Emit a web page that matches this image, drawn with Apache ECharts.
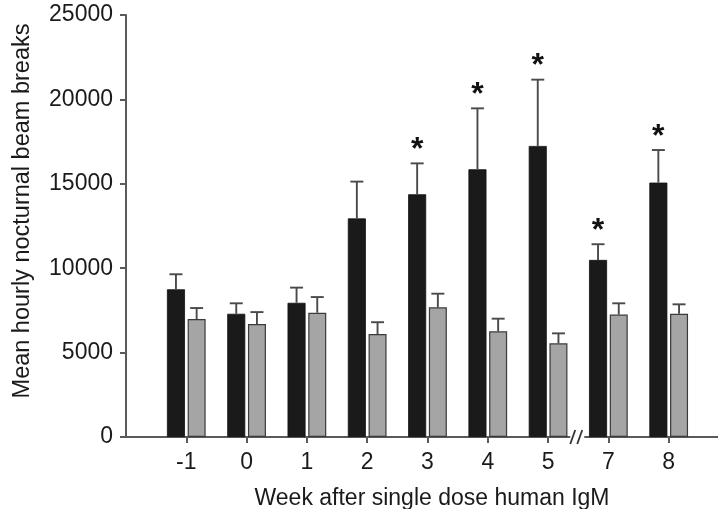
<!DOCTYPE html>
<html>
<head>
<meta charset="utf-8">
<script src="https://cdn.jsdelivr.net/npm/echarts@6/dist/echarts.min.js"></script>
<style>html,body{margin:0;padding:0;background:#fff;}#c{width:718px;height:509px;}</style>
</head>
<body>
<div id="c"></div>
<script>
// ---- data ----
var weeks = ["-1", "0", "1", "2", "3", "4", "5", "7", "8"];
var treatedMean = [8750, 7300, 7950, 12950, 14380, 15860, 17240, 10490, 15070];
var treatedErrTop = [9640, 7920, 8850, 15130, 16210, 19470, 21170, 11420, 17000];
var controlMean = [6990, 6690, 7360, 6100, 7680, 6260, 5550, 7250, 7300];
var controlErrTop = [7640, 7400, 8290, 6800, 8490, 7010, 6140, 7920, 7860];
var significant = [0, 0, 0, 0, 1, 1, 1, 1, 1];
var yTicks = [0, 5000, 10000, 15000, 20000, 25000];
var breakBetween = ["5", "7"];

// ---- build ----
var FONT = "Liberation Sans";
var BAR_W = 18, GAP = 0.15;
var cats = [""].concat(weeks).concat([""]);
function pad(arr) { return [null].concat(arr).concat([null]); }

function errData(means, tops, sig) {
  return weeks.map(function (w, i) { return [i + 1, means[i], tops[i], sig ? sig[i] : 0]; });
}
function errRender(side) {
  return function (params, api) {
    var off = side * (BAR_W + BAR_W * GAP) / 2;
    var idx = api.value(0);
    var p0 = api.coord([idx, api.value(1)]);
    var p1 = api.coord([idx, api.value(2)]);
    var x = p0[0] + off;
    var children = [
      { type: 'line', shape: { x1: x, y1: p0[1], x2: x, y2: p1[1] }, style: { stroke: '#4a4a4a', lineWidth: 1.9 } },
      { type: 'line', shape: { x1: x - 6.5, y1: p1[1], x2: x + 6.5, y2: p1[1] }, style: { stroke: '#4a4a4a', lineWidth: 1.9 } }
    ];
    if (api.value(3)) {
      children.push({ type: 'text', style: { text: '*', x: x, y: p1[1] - 13, align: 'center', verticalAlign: 'middle',
        font: 'bold 32px "' + FONT + '"', fill: '#111' } });
    }
    return { type: 'group', children: children };
  };
}

var chart = echarts.init(document.getElementById('c'), null, { renderer: 'canvas' });
chart.setOption({
  animation: false,
  backgroundColor: '#fff',
  grid: { left: 126, top: 15, bottom: 72, width: 603, containLabel: false, outerBoundsMode: 'none' },
  xAxis: {
    type: 'category', data: cats, boundaryGap: false,
    name: 'Week after single dose human IgM', nameLocation: 'middle', nameGap: 50,
    nameTextStyle: { fontFamily: FONT, fontSize: 23, color: '#1a1a1a', padding: [0, 0, 0, 9] },
    axisLine: { lineStyle: { color: '#5a5a5a', width: 2 } },
    axisTick: { length: 6, lineStyle: { color: '#5a5a5a', width: 2 },
      interval: function (i, v) { return v !== ''; } },
    axisLabel: { fontFamily: FONT, fontSize: 23, color: '#1a1a1a', margin: 14,
      interval: function (i, v) { return v !== ''; } },
    splitLine: { show: false }
  },
  yAxis: {
    type: 'value', min: yTicks[0], max: yTicks[yTicks.length - 1], interval: yTicks[1] - yTicks[0],
    name: 'Mean hourly nocturnal beam breaks', nameLocation: 'middle', nameGap: 91,
    nameTextStyle: { fontFamily: FONT, fontSize: 23.5, color: '#1a1a1a', padding: [0, 0, 0, 30] },
    axisLine: { show: true, lineStyle: { color: '#5a5a5a', width: 2 } },
    axisTick: { show: true, length: 6, lineStyle: { color: '#5a5a5a', width: 2 } },
    axisLabel: { fontFamily: FONT, fontSize: 23, color: '#1a1a1a', margin: 13,
      formatter: function (v) { return String(v); } },
    splitLine: { show: false }
  },
  series: [
    { type: 'bar', data: pad(treatedMean), barWidth: BAR_W, barGap: (GAP * 100) + '%',
      itemStyle: { color: '#1a1a1a', borderColor: '#111', borderWidth: 0.8 } },
    { type: 'bar', data: pad(controlMean), barWidth: BAR_W,
      itemStyle: { color: '#a5a5a5', borderColor: '#3a3a3a', borderWidth: 1.2 } },
    { type: 'custom', z: 5, data: errData(treatedMean, treatedErrTop, significant), renderItem: errRender(-1) },
    { type: 'custom', z: 5, data: errData(controlMean, controlErrTop, null), renderItem: errRender(1) },
    { type: 'custom', z: 6, data: [[cats.indexOf(breakBetween[0]), cats.indexOf(breakBetween[1])]],
      renderItem: function (params, api) {
        var a = api.coord([api.value(0), 0]);
        var b = api.coord([api.value(1), 0]);
        var x = (a[0] + b[0]) / 2 - 2, y = a[1];
        return { type: 'group', children: [
          { type: 'rect', shape: { x: x - 6, y: y - 2, width: 14, height: 4 }, style: { fill: '#fff' } },
          { type: 'line', shape: { x1: x - 6, y1: y + 7, x2: x - 1, y2: y - 7 }, style: { stroke: '#333', lineWidth: 1.8 } },
          { type: 'line', shape: { x1: x + 1, y1: y + 7, x2: x + 6, y2: y - 7 }, style: { stroke: '#333', lineWidth: 1.8 } }
        ] };
      } }
  ]
});
</script>
</body>
</html>
